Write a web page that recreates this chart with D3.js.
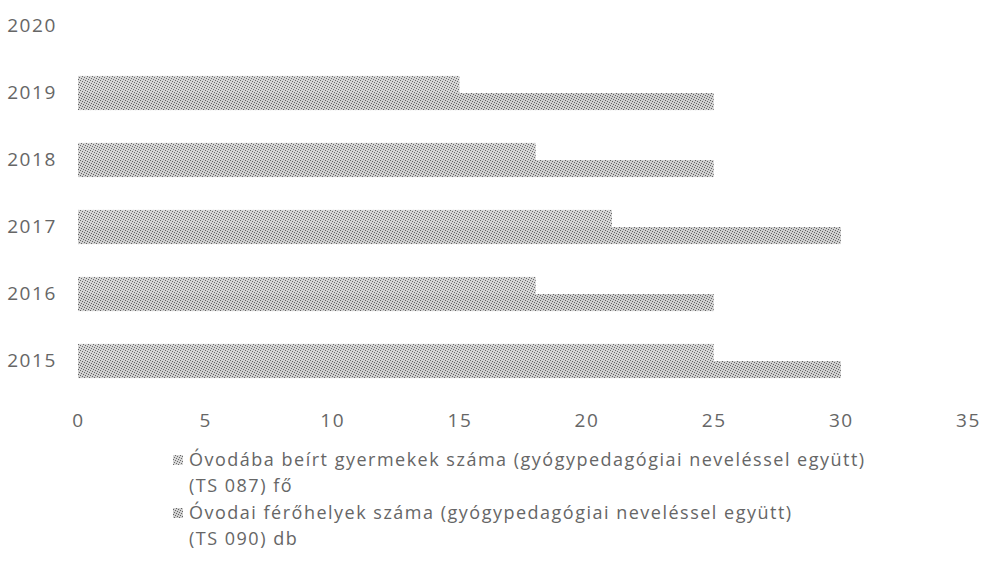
<!DOCTYPE html>
<html><head><meta charset="utf-8">
<script src="https://cdn.jsdelivr.net/npm/d3@7"></script>
<style>body{margin:0;background:#fff}svg{display:block}</style>
</head><body>
<script>
const categories = ["2015","2016","2017","2018","2019","2020"];
const seriesNames = ["Óvodába beírt gyermekek száma (gyógypedagógiai neveléssel együtt)|(TS 087) fő",
                     "Óvodai férőhelyek száma (gyógypedagógiai neveléssel együtt)|(TS 090) db"];
const enrolled = [25, 18, 21, 18, 15, null];
const places   = [30, 25, 30, 25, 25, null];
const xTicks = [0,5,10,15,20,25,30,35];

const W = 984, H = 565;
const svg = d3.select("body").append("svg").attr("width", W).attr("height", H);
const defs = svg.append("defs");
function pat(id, base, dot){
  const p = defs.append("pattern").attr("id", id).attr("patternUnits","userSpaceOnUse").attr("width",5).attr("height",5);
  p.append("rect").attr("width",5).attr("height",5).attr("fill",base);
  [[0,0],[2,1],[4,2],[1,3],[3,4]].forEach(([x,y])=>p.append("rect").attr("x",x).attr("y",y).attr("width",1).attr("height",1).attr("fill",dot));
}
pat("p0","#d6d6d6","#6a6a6a");
pat("p1","#d0d0d0","#636363");

const x = d3.scaleLinear().domain([0,35]).range([78, 968]);
const y = d3.scaleBand().domain(categories.slice().reverse()).range([-7.5, 394.5]).paddingInner(0.49).paddingOuter(0.245);
const sub = d3.scaleBand().domain([0,1]).range([0, y.bandwidth()]);

const font = "'Open Sans', sans-serif";
const data = [enrolled, places];
categories.forEach((c,i)=>{
  data.forEach((s,k)=>{
    if (s[i]==null) return;
    svg.append("rect").attr("x", x(0)).attr("y", y(c)+sub(k))
      .attr("width", x(s[i])-x(0)).attr("height", sub.bandwidth())
      .attr("fill", `url(#p${k})`);
  });
});

// y axis labels
const ya = svg.append("g").attr("transform", `translate(${x(0)-21},0)`)
  .call(d3.axisLeft(y).tickSize(0).tickPadding(0));
ya.select(".domain").remove();
ya.selectAll("text").attr("font-family", font).attr("font-size", 19).attr("fill", "#666")
  .attr("text-anchor","end").attr("letter-spacing", "1.6px");

// x axis labels
const xa = svg.append("g").attr("transform", `translate(0,412)`)
  .call(d3.axisBottom(x).tickValues(xTicks).tickSize(0).tickPadding(0));
xa.select(".domain").remove();
xa.selectAll("text").attr("font-family", font).attr("font-size", 19).attr("fill", "#666")
  .attr("dy","0.8em").attr("letter-spacing", "1.6px");

// legend
const lg = svg.append("g");
seriesNames.forEach((n,k)=>{
  const lines = n.split("|");
  const y0 = 466 + k*53;
  lg.append("rect").attr("x",173).attr("y",y0-11).attr("width",10).attr("height",10).attr("fill",`url(#p${k})`);
  lines.forEach((t,j)=>{
    lg.append("text").attr("x",189).attr("y",y0+j*26).attr("font-family",font).attr("font-size",18)
      .attr("fill","#666").attr("letter-spacing","1.5px").text(t);
  });
});
</script>
</body></html>
